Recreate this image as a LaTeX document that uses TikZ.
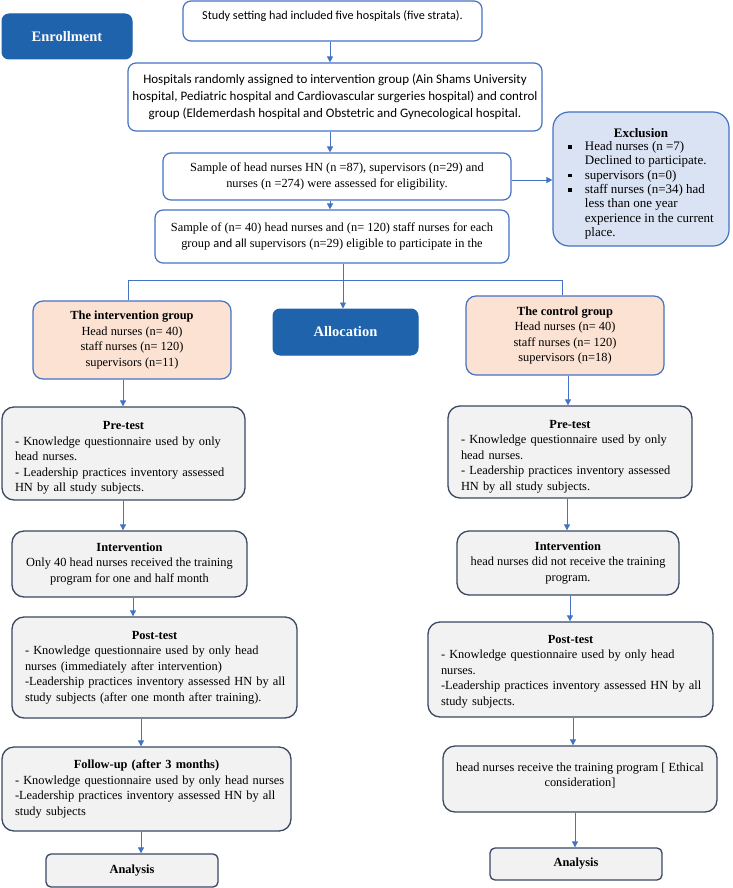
\documentclass[tikz,border=0pt]{standalone}
\usepackage{fontspec}
\setmainfont{Liberation Serif}
\newfontfamily\carlitofont{Carlito}
\usetikzlibrary{arrows.meta}
\definecolor{darkblue}{RGB}{31,99,172}
\definecolor{lineblue}{RGB}{68,114,196}
\definecolor{exfill}{RGB}{218,227,243}
\definecolor{peach}{RGB}{251,226,211}
\definecolor{grayfill}{RGB}{242,242,242}
\definecolor{grayline}{RGB}{58,72,98}
\newcommand{\sqbullet}{\raisebox{1.6pt}{\rule{3.6pt}{3.6pt}}}
\newcommand{\oneline}[1]{\mbox{#1}}
\setlength{\parindent}{0pt}
\begin{document}
\begin{tikzpicture}[x=1pt,y=-1pt,
  bodyfont/.style={font=\fontsize{12.4}{15.5}\selectfont},
  stagebox/.style={draw=darkblue, fill=darkblue, rounded corners=7pt, text=white,
     font=\bfseries\fontsize{14.5}{17}\selectfont, line width=1pt},
  whitebox/.style={draw=lineblue, fill=white, rounded corners=8pt, line width=1.2pt,
     align=center, inner sep=2pt},
  calfont/.style={font=\carlitofont\fontsize{12.2}{16.8}\selectfont},
  calbig/.style={font=\carlitofont\fontsize{13}{17}\selectfont},
  serfont/.style={font=\fontsize{12.4}{16.5}\selectfont},
  exbox/.style={draw=lineblue, fill=exfill, rounded corners=16pt, line width=1.2pt,
     align=center, inner sep=2pt, font=\fontsize{13}{14.4}\selectfont},
  peachbox/.style={draw=lineblue, fill=peach, rounded corners=10pt, line width=1.2pt,
     align=center, inner sep=2pt, bodyfont},
  graybox/.style={draw=grayline, fill=grayfill, rounded corners=12pt, line width=1.3pt,
     inner xsep=13pt, inner ysep=2pt, bodyfont},
  grayc/.style={graybox, align=center},
  anbox/.style={draw=grayline, fill=grayfill, rounded corners=5pt, line width=1.3pt,
     font=\bfseries\fontsize{12.4}{15.5}\selectfont},
  conn/.style={draw=lineblue, line width=0.9pt},
  arr/.style={conn, -{Triangle[length=6pt,width=6pt]}}
]
\fill[white] (0,0) rectangle (732,888);
\useasboundingbox (0,0) rectangle (732,888);

% top part
\node[stagebox, minimum width=130pt, minimum height=45pt] (enroll) at (67,36.5) {Enrollment};
\node[whitebox, calfont, minimum width=299pt, minimum height=40pt, text depth=11pt] (study) at (332.5,21)
  {Study setting had included five hospitals (five strata).};
\node[whitebox, calbig, minimum width=414pt, minimum height=68pt] (hosp) at (335,97)
  {Hospitals randomly assigned to intervention group (Ain Shams University\\
   hospital, Pediatric hospital and Cardiovascular surgeries hospital) and control\\
   group (Eldemerdash hospital and Obstetric and Gynecological hospital.};
\node[whitebox, serfont, minimum width=348pt, minimum height=47pt] (samphn) at (337,176.5)
  {Sample of head nurses HN (n =87), supervisors (n=29) and\\
   nurses (n =274) were assessed for eligibility.};
\node[whitebox, serfont, minimum width=354pt, minimum height=53pt] (samp40) at (332,236.5)
  {Sample of (n= 40) head nurses and (n= 120) staff nurses for each\\
   group {\carlitofont and all} supervisors (n=29) eligible to participate in the};
\node[exbox, minimum width=176pt, minimum height=134pt] (excl) at (641,179)
  {\rule{0pt}{20pt}{\bfseries Exclusion}\\[2pt]
   \begin{tabular}{@{}l@{\hspace{13pt}}l@{}}
   \sqbullet & Head nurses (n =7)\\
             & Declined to participate.\\
   \sqbullet & supervisors (n=0)\\
   \sqbullet & staff nurses (n=34) had\\
             & less than one year\\
             & experience in the current\\
             & place.
   \end{tabular}};

% allocation
\node[stagebox, minimum width=145pt, minimum height=46pt] (alloc) at (345.5,332) {Allocation};
\node[peachbox, minimum width=198pt, minimum height=78pt] (intg) at (132,340)
  {{\bfseries The intervention group}\\Head nurses (n= 40)\\staff nurses (n= 120)\\supervisors (n=11)};
\node[peachbox, minimum width=198pt, minimum height=79pt] (ctrlg) at (565,335.5)
  {{\bfseries The control group}\\Head nurses (n= 40)\\staff nurses (n= 120)\\supervisors (n=18)};

% left column
\node[graybox, minimum width=243pt, minimum height=93pt, text width=217pt, align=left] (prel) at (123.5,453.5)
  {{\centering\rule{0pt}{17pt}\bfseries Pre-test\par}
   \oneline{- Knowledge questionnaire used by only}\\
   \oneline{head nurses.}\\
   \oneline{- Leadership practices inventory assessed}\\
   \oneline{HN by all study subjects.}};
\node[grayc, minimum width=235pt, minimum height=66pt] (intl) at (129.5,564)
  {{\bfseries Intervention}\\Only 40 head nurses received the training\\program for one and half month};
\node[graybox, minimum width=285pt, minimum height=101pt, text width=259pt, align=left] (postl) at (154.5,667.5)
  {{\centering\bfseries Post-test\par}
   \oneline{- Knowledge questionnaire used by only head}\\
   \oneline{nurses (immediately after intervention)}\\
   \oneline{-Leadership practices inventory assessed HN by all}\\
   \oneline{study subjects (after one month after training).}};
\node[graybox, minimum width=289pt, minimum height=84pt, text width=263pt, align=left] (follow) at (146.5,789)
  {{\centering\bfseries Follow-up (after 3 months)\par}
   \oneline{- Knowledge questionnaire used by only head nurses}\\
   \oneline{-Leadership practices inventory assessed HN by all}\\
   \oneline{study subjects}};
\node[anbox, minimum width=172pt, minimum height=33pt] (anl) at (132,870.5) {Analysis};

% right column
\node[graybox, minimum width=244pt, minimum height=92pt, text width=218pt, align=left] (prer) at (570,452)
  {{\centering\rule{0pt}{17pt}\bfseries Pre-test\par}
   \oneline{- Knowledge questionnaire used by only}\\
   \oneline{head nurses.}\\
   \oneline{- Leadership practices inventory assessed}\\
   \oneline{HN by all study subjects.}};
\node[grayc, minimum width=222pt, minimum height=64pt] (intr) at (568,563)
  {{\bfseries Intervention}\\head nurses did not receive the training\\program.};
\node[graybox, minimum width=285pt, minimum height=95pt, text width=259pt, align=left] (postr) at (570.5,669.5)
  {{\centering\rule{0pt}{12.5pt}\bfseries Post-test\par}
   \oneline{- Knowledge questionnaire used by only head}\\
   \oneline{nurses.}\\
   \oneline{-Leadership practices inventory assessed HN by all}\\
   \oneline{study subjects.}};
\node[grayc, minimum width=274pt, minimum height=66pt, text depth=9pt] (ethr) at (580,779)
  {head nurses receive the training program [ Ethical\\consideration]};
\node[anbox, minimum width=172pt, minimum height=32pt] (anr) at (576,864) {Analysis};

% connector columns
\coordinate (cT) at (330,0);
\coordinate (cE) at (0,180);
\coordinate (br) at (343,280);
\coordinate (bL) at (128,280);
\coordinate (bR) at (562,280);
\coordinate (xl1) at (123,0);
\coordinate (xl2) at (133,0);
\coordinate (xl3) at (141,0);
\coordinate (xr1) at (568,0);
\coordinate (xr2) at (567,0);
\coordinate (xr3) at (570,0);
\coordinate (xr4) at (573,0);
\coordinate (xr5) at (575,0);

\draw[arr] (study.south -| cT) -- (hosp.north -| cT);
\draw[arr] (hosp.south -| cT) -- (samphn.north -| cT);
\draw[arr] (samphn.south -| cT) -- (samp40.north -| cT);
\draw[arr] (samphn.east |- cE) -- (excl.west |- cE);
\draw[conn] (samp40.south -| br) -- (br);
\draw[conn] (intg.north -| bL) -- (bL) -- (bR) -- (ctrlg.north -| bR);
\draw[arr] (br) -- (alloc.north -| br);

\draw[arr] (intg.south -| xl1) -- (prel.north -| xl1);
\draw[arr] (prel.south -| xl1) -- (intl.north -| xl1);
\draw[arr] (intl.south -| xl2) -- (postl.north -| xl2);
\draw[arr] (postl.south -| xl3) -- (follow.north -| xl3);
\draw[arr] (follow.south -| xl3) -- (anl.north -| xl3);

\draw[arr] (ctrlg.south -| xr1) -- (prer.north -| xr1);
\draw[arr] (prer.south -| xr2) -- (intr.north -| xr2);
\draw[arr] (intr.south -| xr3) -- (postr.north -| xr3);
\draw[arr] (postr.south -| xr4) -- (ethr.north -| xr4);
\draw[arr] (ethr.south -| xr5) -- (anr.north -| xr5);
\end{tikzpicture}
\end{document}
